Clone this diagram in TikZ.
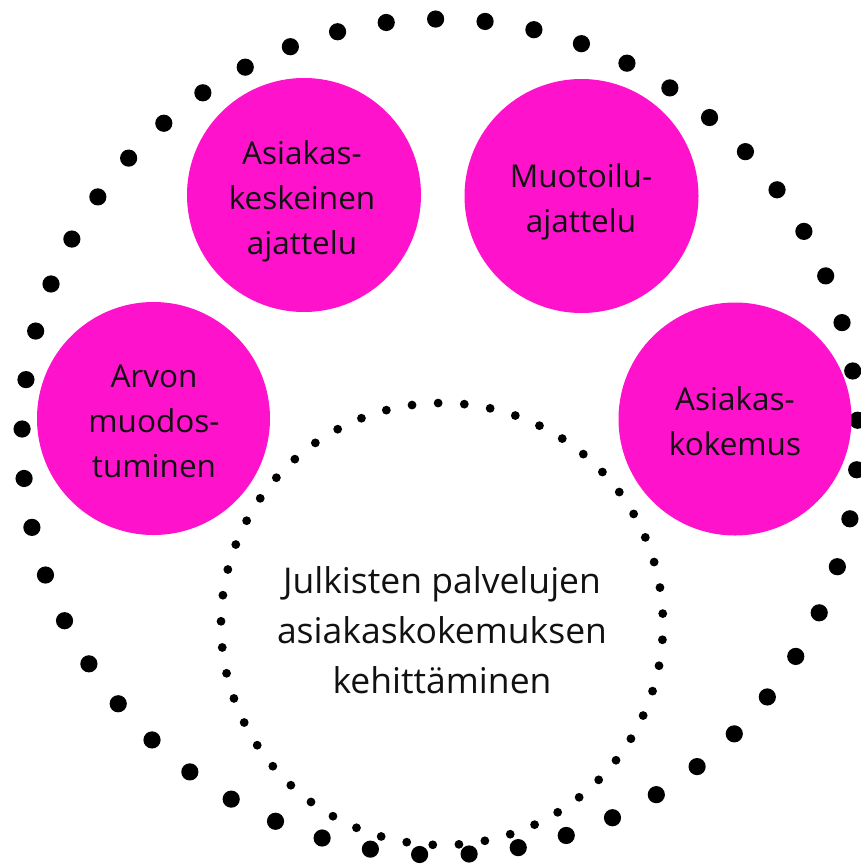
\documentclass[tikz,border=0pt]{standalone}
\usepackage{fontspec}
\setmainfont{Open Sans}
\definecolor{pinkfill}{HTML}{FF12CC}
\definecolor{txt}{HTML}{111111}
\begin{document}
\begin{tikzpicture}[x=1pt,y=-1pt,
  pinkcirc/.style={circle,fill=pinkfill,draw=none,inner sep=0pt,minimum size=#1},
  pinktext/.style={align=center,inner sep=0pt,text=txt,font=\fontsize{31.5}{45}\selectfont},
  centertext/.style={align=center,inner sep=0pt,text=txt,font=\fontsize{35.5}{50}\selectfont},
  bigdot/.style={fill=black},
  smalldot/.style={fill=black}]
\useasboundingbox (0,0) rectangle (861,865);
% centres of the dotted rings
\coordinate (outerc) at (440,437);
\coordinate (innerc) at (442,624);
% outer dotted ring
\foreach \i in {0,...,52}{
  \fill[bigdot,shift={(outerc)}] ({-90.6+\i*6.79245}:418) circle[radius=8.6pt];
}
% inner dotted ring
\foreach \i in {0,...,52}{
  \fill[smalldot,shift={(innerc)}] ({-91+\i*6.79245}:221) circle[radius=4.4pt];
}
% pink circles
\node[pinkcirc=234pt] (cA) at (304,195) {};
\node[pinkcirc=234pt] (cM) at (581.5,196) {};
\node[pinkcirc=233pt] (cV) at (153.5,418.5) {};
\node[pinkcirc=233pt] (cK) at (735,419) {};
% texts
\node[pinktext] (tA) at (302,200.5) {\strut Asiakas-\\keskeinen\\ajattelu\strut};
\node[pinktext] (tM) at (581,200.5) {\strut Muotoilu-\\ajattelu\strut};
\node[pinktext] (tV) at (154,423.5) {\strut Arvon\\muodos-\\tuminen\strut};
\node[pinktext] (tK) at (735,423.5) {\strut Asiakas-\\kokemus\strut};
\node[centertext] (tC) at (442,633) {\strut Julkisten palvelujen\\asiakaskokemuksen\\kehittäminen\strut};
\end{tikzpicture}
\end{document}
